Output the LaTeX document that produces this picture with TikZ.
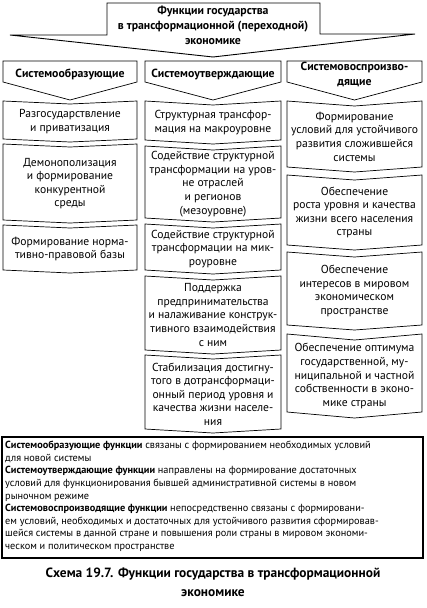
\documentclass[tikz,border=0pt]{standalone}
\usepackage{fontspec}
\setmainfont{PT Sans}
% one content box: name, left x, right x, top y, bottom y, depth of the notch, text
\newcommand{\funcbox}[7]{%
  \draw[frame] (#2,#4) -- ({(#2+#3)/2},{#4+#6}) -- (#3,#4) -- (#3,#5)
    -- ({(#2+#3)/2},{#5+#6}) -- (#2,#5) -- cycle;
  \node[boxtext] (#1) at ({(#2+#3)/2},{(#4+#5+#6)/2}) {#7};}
% one column head: name, left x, right x, text
\newcommand{\headbox}[4]{%
  \draw[frame] (#2,61) -- (#3,61) -- (#3,82) -- ({(#2+#3)/2},100) -- (#2,82) -- cycle;
  \node[headtext] (#1) at ({(#2+#3)/2},74) {#4};}
\begin{document}
\begin{tikzpicture}[x=1pt, y=-1pt, line join=miter]
  \tikzset{
    frame/.style={draw, line width=0.7pt},
    boxtext/.style={align=center, inner sep=0pt,
      font=\fontsize{11.6}{13.6}\selectfont},
    headtext/.style={align=center, inner sep=0pt,
      font=\bfseries\fontsize{11.8}{15}\selectfont},
    legend/.style={align=left, inner sep=0pt, anchor=north west,
      font=\fontsize{10.3}{12.6}\selectfont},
    caption/.style={align=center, inner sep=0pt,
      font=\bfseries\fontsize{13.4}{19}\selectfont}
  }
  \useasboundingbox (0,0) rectangle (426,608);
  % the state's functions: box with a wide arrow under it
  \draw[frame, line width=0.9pt] (107,3) -- (320,3) -- (320,34) -- (415,34)
    -- (213,57) -- (10,35) -- (107,35) -- cycle;
  \node[headtext] (state) at (213,25)
    {Функции государства\\в трансформационной (переходной)\\экономике};
  % the three groups
  \headbox{forming}{3}{137}{Системообразующие}
  \headbox{asserting}{145}{281}{Системоутверждающие}
  \headbox{reproducing}{287}{422}{Системовоспроизво-\\дящие}
  % first column
  \funcbox{privat}{3}{137}{101}{139}{3}{Разгосударствление\\и приватизация}
  \funcbox{demonop}{3}{137}{144}{220}{3}{Демонополизация\\и формирование\\конкурентной\\среды}
  \funcbox{normbase}{3}{137}{225}{270}{3}{Формирование норма-\\тивно-правовой базы}
  % second column
  \funcbox{macro}{145}{281}{101}{140}{4}{Структурная трансфор-\\мация на макроуровне}
  \funcbox{meso}{145}{281}{146}{218}{4}{Содействие структурной\\трансформации на уров-\\не отраслей\\и регионов\\(мезоуровне)}
  \funcbox{micro}{145}{281}{224}{270}{4}{Содействие структурной\\трансформации на мик-\\роуровне}
  \funcbox{business}{145}{281}{276}{350}{4}{Поддержка\\предпринимательства\\и налаживание конструк-\\тивного взаимодействия\\с ним}
  \funcbox{stabil}{145}{281}{355}{429}{4}{Стабилизация достигну-\\того в дотрансформаци-\\онный период уровня и\\качества жизни населе-\\ния}
  % third column
  \funcbox{sustain}{287}{422}{101}{167}{5}{Формирование\\условий для устойчивого\\развития сложившейся\\системы}
  \funcbox{living}{287}{422}{175}{245}{5}{Обеспечение\\роста уровня и качества\\жизни всего населения\\страны}
  \funcbox{worldint}{287}{422}{252}{325}{5}{Обеспечение\\интересов в мировом\\экономическом\\пространстве}
  \funcbox{property}{287}{422}{334}{412}{6}{Обеспечение оптимума\\государственной, му-\\ниципальной и частной\\собственности в эконо-\\мике страны}
  % explanations
  \draw[line width=1.1pt] (2,437) rectangle (423,558);
  \node[legend] (notes) at (5,441)
    {\textbf{Системообразующие функции} связаны с формированием необходимых условий\\
     для новой системы\\
     \textbf{Системоутверждающие функции} направлены на формирование достаточных\\
     условий для функционирования бывшей административной системы в новом\\
     рыночном режиме\\
     \textbf{Системовоспроизводящие функции} непосредственно связаны с формировани-\\
     ем условий, необходимых и достаточных для устойчивого развития сформировав-\\
     шейся системы в данной стране и повышения роли страны в мировом экономи-\\
     ческом и политическом пространстве};
  \node[caption] (title) at (213,582)
    {Схема 19.7. Функции государства в трансформационной\\экономике};
\end{tikzpicture}
\end{document}
